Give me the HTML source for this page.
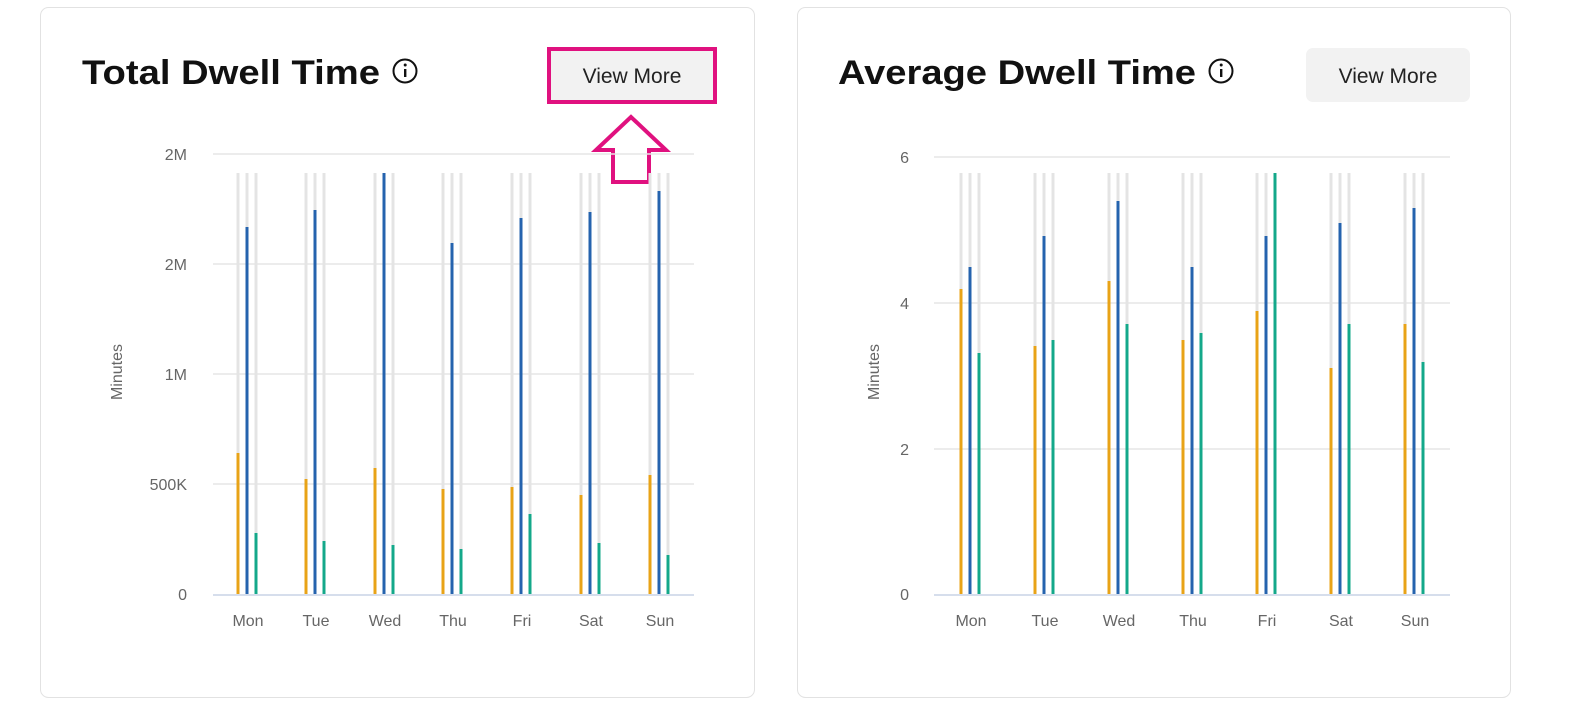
<!DOCTYPE html>
<html><head><meta charset="utf-8"><style>
html,body{margin:0;padding:0;background:#fff;}
svg{display:block;font-family:"Liberation Sans",sans-serif;}
</style></head><body>
<svg width="1580" height="720" viewBox="0 0 1580 720" xmlns="http://www.w3.org/2000/svg">
<rect x="40.5" y="7.5" width="714" height="690" rx="8" fill="#fff" stroke="#e2e2e2"/>
<rect x="797.5" y="7.5" width="713" height="690" rx="8" fill="#fff" stroke="#e2e2e2"/>

<!-- Left header -->
<text x="82" y="84" font-size="34" font-weight="bold" fill="#111" textLength="298" lengthAdjust="spacingAndGlyphs">Total Dwell Time</text>
<circle cx="405" cy="71" r="11.5" fill="none" stroke="#111" stroke-width="2"/>
<rect x="404" y="69" width="2.4" height="8" fill="#111"/><circle cx="405.2" cy="65" r="1.5" fill="#111"/>
<rect x="547" y="47" width="170" height="57" fill="#f2f2f2"/>
<rect x="549" y="49" width="166" height="53" fill="none" stroke="#e0117f" stroke-width="4"/>
<text x="632" y="83" font-size="21" fill="#222" text-anchor="middle">View More</text>
<polygon points="631,117 596,150 613,150 613,182 649,182 649,150 666,150" fill="none" stroke="#e0117f" stroke-width="4" stroke-linejoin="miter"/>

<!-- Right header -->
<text x="838" y="84" font-size="34" font-weight="bold" fill="#111" textLength="358" lengthAdjust="spacingAndGlyphs">Average Dwell Time</text>
<circle cx="1221" cy="71" r="11.5" fill="none" stroke="#111" stroke-width="2"/>
<rect x="1220" y="69" width="2.4" height="8" fill="#111"/><circle cx="1221.2" cy="65" r="1.5" fill="#111"/>
<rect x="1306" y="48" width="164" height="54" rx="7" fill="#f2f2f2"/>
<text x="1388" y="83" font-size="21" fill="#222" text-anchor="middle">View More</text>

<!-- Left grid -->
<g stroke="#e6e6e6" stroke-width="1.5">
<line x1="213" y1="154" x2="694" y2="154"/><line x1="213" y1="264" x2="694" y2="264"/>
<line x1="213" y1="374" x2="694" y2="374"/><line x1="213" y1="484" x2="694" y2="484"/>
</g>
<line x1="213" y1="595" x2="694" y2="595" stroke="#c8d3e6" stroke-width="1.5"/>
<g font-size="16" fill="#666" text-anchor="end">
<text x="187" y="160">2M</text><text x="187" y="270">2M</text><text x="187" y="380">1M</text>
<text x="187" y="490">500K</text><text x="187" y="600">0</text>
</g>
<text transform="translate(122,372) rotate(-90)" font-size="16" fill="#666" text-anchor="middle">Minutes</text>
<g font-size="16" fill="#666" text-anchor="middle">
<text x="248" y="626">Mon</text><text x="316" y="626">Tue</text><text x="385" y="626">Wed</text>
<text x="453" y="626">Thu</text><text x="522" y="626">Fri</text><text x="591" y="626">Sat</text><text x="660" y="626">Sun</text>
</g>
<g fill="#e4e4e4">
<rect x="236.5" y="173" width="3" height="421"/><rect x="245.5" y="173" width="3" height="421"/><rect x="254.5" y="173" width="3" height="421"/>
<rect x="304.5" y="173" width="3" height="421"/><rect x="313.5" y="173" width="3" height="421"/><rect x="322.5" y="173" width="3" height="421"/>
<rect x="373.5" y="173" width="3" height="421"/><rect x="382.5" y="173" width="3" height="421"/><rect x="391.5" y="173" width="3" height="421"/>
<rect x="441.5" y="173" width="3" height="421"/><rect x="450.5" y="173" width="3" height="421"/><rect x="459.5" y="173" width="3" height="421"/>
<rect x="510.5" y="173" width="3" height="421"/><rect x="519.5" y="173" width="3" height="421"/><rect x="528.5" y="173" width="3" height="421"/>
<rect x="579.5" y="173" width="3" height="421"/><rect x="588.5" y="173" width="3" height="421"/><rect x="597.5" y="173" width="3" height="421"/>
<rect x="648.5" y="173" width="3" height="421"/><rect x="657.5" y="173" width="3" height="421"/><rect x="666.5" y="173" width="3" height="421"/>
</g>
<g fill="#e8a317">
<rect x="236.5" y="453" width="3" height="141"/><rect x="304.5" y="479" width="3" height="115"/><rect x="373.5" y="468" width="3" height="126"/>
<rect x="441.5" y="489" width="3" height="105"/><rect x="510.5" y="487" width="3" height="107"/><rect x="579.5" y="495" width="3" height="99"/>
<rect x="648.5" y="475" width="3" height="119"/>
</g>
<g fill="#2563ae">
<rect x="245.5" y="227" width="3" height="367"/><rect x="313.5" y="210" width="3" height="384"/><rect x="382.5" y="173" width="3" height="421"/>
<rect x="450.5" y="243" width="3" height="351"/><rect x="519.5" y="218" width="3" height="376"/><rect x="588.5" y="212" width="3" height="382"/>
<rect x="657.5" y="191" width="3" height="403"/>
</g>
<g fill="#14a88a">
<rect x="254.5" y="533" width="3" height="61"/><rect x="322.5" y="541" width="3" height="53"/><rect x="391.5" y="545" width="3" height="49"/>
<rect x="459.5" y="549" width="3" height="45"/><rect x="528.5" y="514" width="3" height="80"/><rect x="597.5" y="543" width="3" height="51"/>
<rect x="666.5" y="555" width="3" height="39"/>
</g>

<!-- Right grid -->
<g stroke="#e6e6e6" stroke-width="1.5">
<line x1="934" y1="157" x2="1450" y2="157"/><line x1="934" y1="303" x2="1450" y2="303"/>
<line x1="934" y1="449" x2="1450" y2="449"/>
</g>
<line x1="934" y1="595" x2="1450" y2="595" stroke="#c8d3e6" stroke-width="1.5"/>
<g font-size="16" fill="#666" text-anchor="end">
<text x="909" y="163">6</text><text x="909" y="309">4</text><text x="909" y="455">2</text><text x="909" y="600">0</text>
</g>
<text transform="translate(879,372) rotate(-90)" font-size="16" fill="#666" text-anchor="middle">Minutes</text>
<g font-size="16" fill="#666" text-anchor="middle">
<text x="971" y="626">Mon</text><text x="1045" y="626">Tue</text><text x="1119" y="626">Wed</text>
<text x="1193" y="626">Thu</text><text x="1267" y="626">Fri</text><text x="1341" y="626">Sat</text><text x="1415" y="626">Sun</text>
</g>
<g fill="#e4e4e4">
<rect x="959.5" y="173" width="3" height="421"/><rect x="968.5" y="173" width="3" height="421"/><rect x="977.5" y="173" width="3" height="421"/>
<rect x="1033.5" y="173" width="3" height="421"/><rect x="1042.5" y="173" width="3" height="421"/><rect x="1051.5" y="173" width="3" height="421"/>
<rect x="1107.5" y="173" width="3" height="421"/><rect x="1116.5" y="173" width="3" height="421"/><rect x="1125.5" y="173" width="3" height="421"/>
<rect x="1181.5" y="173" width="3" height="421"/><rect x="1190.5" y="173" width="3" height="421"/><rect x="1199.5" y="173" width="3" height="421"/>
<rect x="1255.5" y="173" width="3" height="421"/><rect x="1264.5" y="173" width="3" height="421"/><rect x="1273.5" y="173" width="3" height="421"/>
<rect x="1329.5" y="173" width="3" height="421"/><rect x="1338.5" y="173" width="3" height="421"/><rect x="1347.5" y="173" width="3" height="421"/>
<rect x="1403.5" y="173" width="3" height="421"/><rect x="1412.5" y="173" width="3" height="421"/><rect x="1421.5" y="173" width="3" height="421"/>
</g>
<g fill="#e8a317">
<rect x="959.5" y="289" width="3" height="305"/><rect x="1033.5" y="346" width="3" height="248"/><rect x="1107.5" y="281" width="3" height="313"/>
<rect x="1181.5" y="340" width="3" height="254"/><rect x="1255.5" y="311" width="3" height="283"/><rect x="1329.5" y="368" width="3" height="226"/>
<rect x="1403.5" y="324" width="3" height="270"/>
</g>
<g fill="#2563ae">
<rect x="968.5" y="267" width="3" height="327"/><rect x="1042.5" y="236" width="3" height="358"/><rect x="1116.5" y="201" width="3" height="393"/>
<rect x="1190.5" y="267" width="3" height="327"/><rect x="1264.5" y="236" width="3" height="358"/><rect x="1338.5" y="223" width="3" height="371"/>
<rect x="1412.5" y="208" width="3" height="386"/>
</g>
<g fill="#14a88a">
<rect x="977.5" y="353" width="3" height="241"/><rect x="1051.5" y="340" width="3" height="254"/><rect x="1125.5" y="324" width="3" height="270"/>
<rect x="1199.5" y="333" width="3" height="261"/><rect x="1273.5" y="173" width="3" height="421"/><rect x="1347.5" y="324" width="3" height="270"/>
<rect x="1421.5" y="362" width="3" height="232"/>
</g>
</svg>
</body></html>
